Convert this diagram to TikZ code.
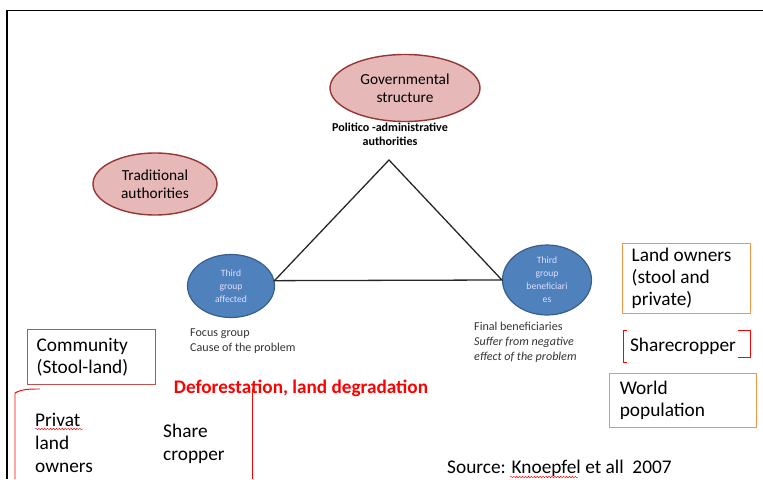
\documentclass[tikz,border=0pt]{standalone}
\usepackage{fontspec}
\setmainfont{Carlito}
\usepackage{xcolor}
\usepackage{tikz}
\usetikzlibrary{shapes.geometric, calc, decorations.pathmorphing}

\definecolor{pinkfill}{HTML}{E6B9B8}
\definecolor{pinkline}{HTML}{953735}
\definecolor{bluefill}{HTML}{4F81BD}
\definecolor{blueline}{HTML}{385D8A}
\definecolor{orangeline}{HTML}{F79646}
\definecolor{brickline}{HTML}{C0504D}
\definecolor{markred}{HTML}{FF0000}

\begin{document}
\begin{tikzpicture}[
    x=0.03cm, y=-0.03cm,
    actor/.style={draw=pinkline, fill=pinkfill, ellipse, line width=1.2pt, inner sep=0pt, align=center, font=\fontsize{13.1}{15.4}\selectfont},
    group/.style={draw=blueline, fill=bluefill, ellipse, line width=1pt, inner sep=0pt, align=center, text=white!88!blue, font=\fontsize{8.2}{11}\selectfont},
    box/.style={draw, rectangle, line width=1.1pt, anchor=north west, align=flush left, inner xsep=0.25cm, inner ysep=0pt, font=\fontsize{16.5}{18.8}\selectfont},
    label/.style={anchor=base west, inner sep=0pt, align=flush left, font=\fontsize{16.5}{19.4}\selectfont},
    note/.style={anchor=base west, inner sep=0pt, align=flush left, text=black!80, font=\fontsize{10.3}{12.4}\selectfont},
    bracket/.style={draw=markred, line width=0.8pt},
    squiggle/.style={draw=markred, line width=0.4pt, decorate, decoration={snake, amplitude=0.6pt, segment length=2.5pt}}
]
    \useasboundingbox (0,0) rectangle (763,479);

    % Frame
    \draw[line width=1.3pt] (7,479) -- (7,10.5) -- (763,10.5);

    % Actors
    \node[actor, minimum width=4.5cm, minimum height=2.01cm] (gov) at (405,88) {Governmental\\structure};
    \node[font=\bfseries\fontsize{10.3}{12}\selectfont, align=center, inner sep=0pt] (politico) at (390,134) {Politico -administrative\\authorities};
    \node[actor, minimum width=3.72cm, minimum height=1.86cm] (trad) at (155,184) {Traditional\\authorities};

    % Third groups
    \node[group, minimum width=2.61cm, minimum height=1.89cm] (affected) at (231,286) {Third\\group\\affected};
    \node[group, minimum width=2.67cm, minimum height=2.1cm] (benef) at (547,280) {Third\\group\\beneficiari\\es};

    % Triangle
    \coordinate (apex) at (389,160);
    \draw[line width=1.1pt, black!85] (apex) -- (affected.7) -- (benef.west) -- cycle;

    \node[note] (focus) at (190,351) {Focus group\\Cause of the problem};
    \node[note] (final) at (474,360) {Final beneficiaries\\\textit{Suffer from negative}\\\textit{effect of the problem}};

    % Boxes on the right
    \node[box, draw=orangeline, minimum width=3.84cm, minimum height=2.1cm, text width=3.3cm] (landowners) at (622,243) {Land owners\\(stool and\\private)};
    \node[label, anchor=north west, minimum width=3.81cm, minimum height=0.96cm, inner xsep=0.2cm, text width=3.4cm] (sharecrop) at (623,330) {Sharecropper};
    \draw[bracket] ($(sharecrop.north west)+(4,0)$) -- (sharecrop.north west) -- (sharecrop.south west) -- ++(4,0);
    \draw[bracket] ($(sharecrop.north east)+(-12,0)$) -- (sharecrop.north east) -- ++(0,27) -- ++(-12,0);
    \node[box, draw=orangeline, minimum width=4.41cm, minimum height=1.62cm, inner xsep=0.27cm, text width=3.8cm] (world) at (609,373) {World\\population};

    % Boxes on the left
    \node[box, draw=brickline, minimum width=3.84cm, minimum height=1.65cm, text width=3.3cm] (community) at (27,329) {Community\\(Stool-land)};
    \draw[bracket] (15,479) -- (15,393) .. controls (22,389) and (30,389) .. (40,389);
    \draw[bracket] (252,389) -- (252,479);
    \node[font=\bfseries\fontsize{16.4}{18}\selectfont, text=markred, inner sep=0pt] (impact) at (301,388) {Deforestation, land degradation};

    \node[label] (privat) at (35,472) {Privat\\land\\owners};
    \draw[squiggle] (35,429) -- (83,429);
    \node[label, font=\fontsize{16.5}{18.8}\selectfont] (share) at (163,460) {Share\\cropper};

    % Source
    \node[label] (source) at (447,473) {Source: Knoepfel et all\ \ 2007};
    \draw[squiggle] (510,477) -- (578,477);
\end{tikzpicture}
\end{document}
